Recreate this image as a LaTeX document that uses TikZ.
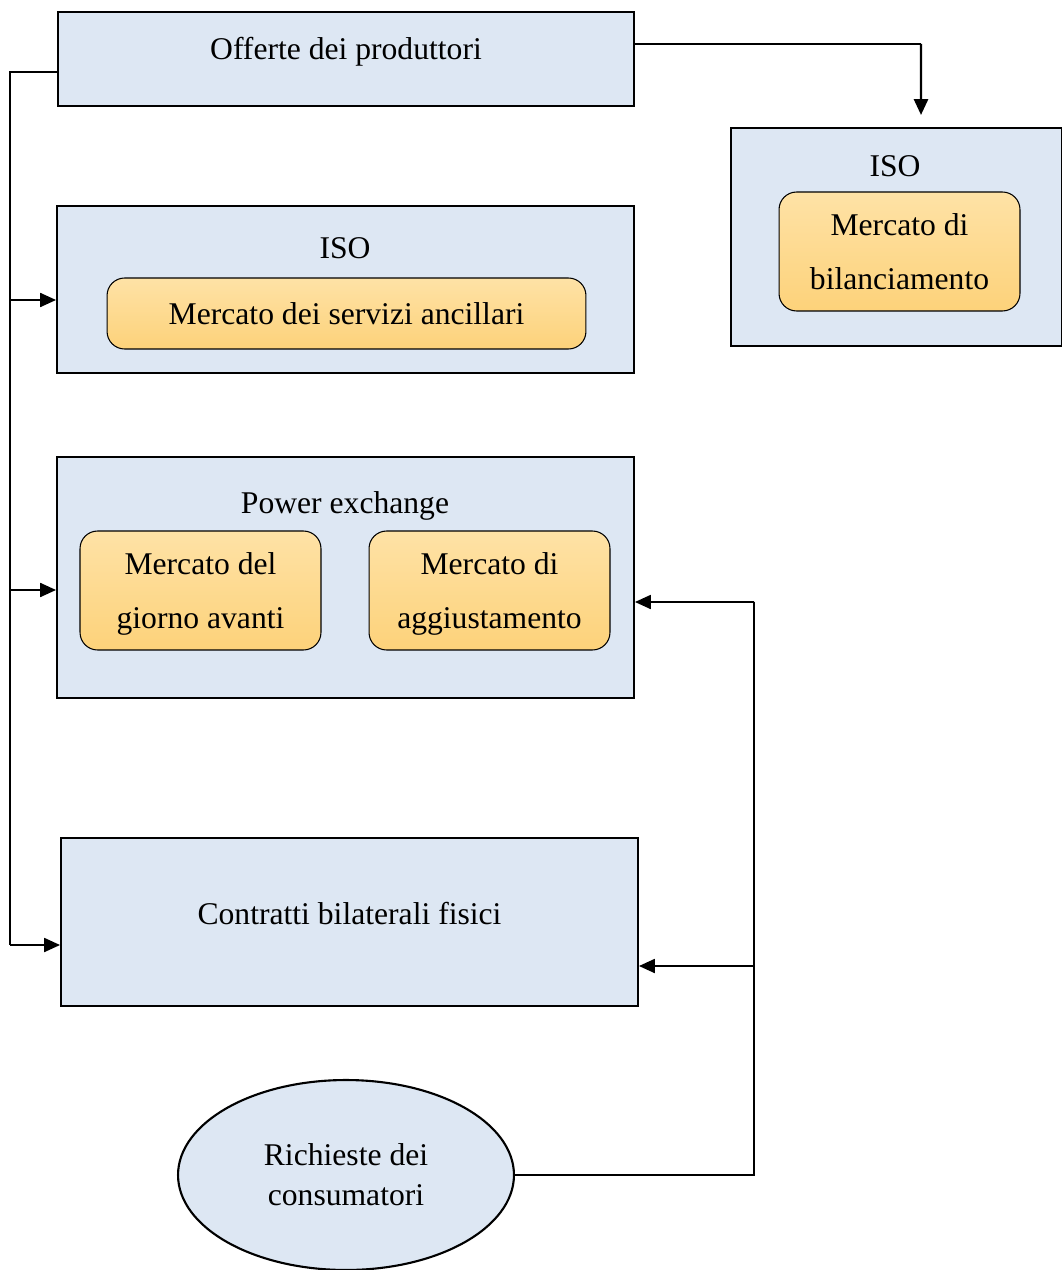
\documentclass[tikz,border=0pt]{standalone}
\usepackage{fontspec}
\setmainfont{Liberation Serif}
\usepackage{xcolor}
\usetikzlibrary{arrows.meta,positioning,calc,shapes.geometric}

\definecolor{bluebox}{HTML}{DDE7F3}
\definecolor{goldtop}{HTML}{FEE2A6}
\definecolor{goldbot}{HTML}{FDD27A}

\begin{document}
\begin{tikzpicture}[
    x=0.02cm, y=-0.02cm,
    >={Triangle[length=9pt,width=8pt]},
    font=\fontsize{18}{31}\selectfont,
    cornice/.style={draw, line width=1.2pt, fill=bluebox, inner sep=0pt},
    mercato/.style={draw, line width=0.6pt, rounded corners=10pt, top color=goldtop,
                    bottom color=goldbot, align=center, inner sep=0pt},
    testo/.style={inner sep=0pt, align=center},
    linea/.style={line width=0.7pt},
    freccia/.style={->, line width=0.9pt},
  ]
    \useasboundingbox (0,0) rectangle (1061,1270);

    % --- producers ---
    \node[cornice, minimum width=11.52cm, minimum height=1.88cm] (offerte) at (346,59) {};
    \node[testo] (offerte-t) at (346,52) {Offerte dei produttori};

    % --- ISO, balancing market ---
    \node[cornice, minimum width=6.62cm, minimum height=4.36cm] (isoB) at (896.5,237) {};
    \node[testo] (isoB-t) at (895,166) {ISO};
    \node[mercato, minimum width=4.82cm, minimum height=2.38cm, text depth=0cm] (bil) at (899.5,251.5)
      {Mercato di\\bilanciamento};

    % --- ISO, ancillary services ---
    \node[cornice, minimum width=11.54cm, minimum height=3.34cm] (isoA) at (345.5,289.5) {};
    \node[testo] (isoA-t) at (345,248) {ISO};
    \node[mercato, minimum width=9.58cm, minimum height=1.42cm] (msa) at (346.5,313.5)
      {Mercato dei servizi ancillari};

    % --- power exchange ---
    \node[cornice, minimum width=11.54cm, minimum height=4.82cm] (pe) at (345.5,577.5) {};
    \node[testo] (pe-t) at (345,506) {Power exchange};
    \node[mercato, minimum width=4.82cm, minimum height=2.38cm, text depth=-0.11cm] (mgp) at (200.5,590.5)
      {Mercato del\\giorno avanti};
    \node[mercato, minimum width=4.82cm, minimum height=2.38cm, text depth=-0.11cm] (ma) at (489.5,590.5)
      {Mercato di\\aggiustamento};

    % --- bilateral contracts ---
    \node[cornice, minimum width=11.54cm, minimum height=3.36cm] (cbf) at (349.5,922) {};
    \node[testo] (cbf-t) at (349.5,914) {Contratti bilaterali fisici};

    % --- consumers ---
    \node[ellipse, draw, line width=1.2pt, fill=bluebox, minimum width=6.72cm,
          minimum height=3.8cm, align=center, inner sep=0pt,
          font=\fontsize{18}{22.7}\selectfont] (cons) at (346,1175)
      {Richieste dei\\consumatori};

    % --- producers feed ---
    \coordinate (busS) at (10,72);
    \coordinate (busE) at (10,945);
    \draw[linea] ($(offerte.west)+(0,13)$) -- (busS) -- (busE);
    \draw[freccia] (busS |- {0,300}) -- ($(isoA.west)+(0,10.5)$);
    \draw[freccia] (busS |- {0,590}) -- ($(pe.west)+(0,12.5)$);
    \draw[freccia] (busE) -- ($(cbf.west)+(0,23)$);

    \coordinate (ang) at (921,44);
    \draw[linea] ($(offerte.east)+(0,-15)$) -- (ang);
    \draw[->, line width=1.3pt] (ang) -- ($(isoB.north)+(24.5,-12)$);

    % --- consumers feed ---
    \coordinate (busT) at (754,602);
    \coordinate (busC) at (cons.east -| busT);
    \draw[linea] (cons.east) -- (busC) -- (busT);
    \draw[freccia] (busT) -- ($(pe.east)+(0,24.5)$);
    \draw[freccia] (busT |- {0,966}) -- ($(cbf.east)+(0,44)$);
  \end{tikzpicture}
\end{document}
